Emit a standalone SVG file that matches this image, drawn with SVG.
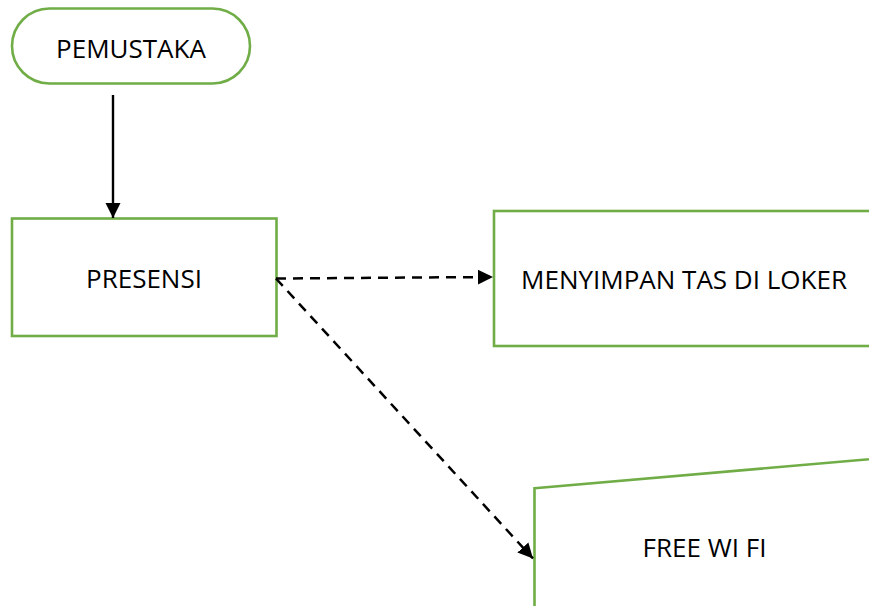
<svg xmlns="http://www.w3.org/2000/svg" width="869" height="606" viewBox="0 0 869 606">
  <style>
    .node { fill: #ffffff; stroke: #70ad47; stroke-width: 2.6; }
    .label { font-family: "Open Sans", "Liberation Sans", sans-serif; font-size: 26px; fill: #000000; text-anchor: middle; }
    .solid { stroke: #000000; stroke-width: 2.4; fill: none; }
    .dashed { stroke: #000000; stroke-width: 2.5; fill: none; stroke-dasharray: 10 7; }
  </style>
  <defs>
    <marker id="arrow" markerUnits="userSpaceOnUse" markerWidth="16" markerHeight="16" viewBox="0 0 16 16" refX="15" refY="8" orient="auto">
      <path d="M0,0.5 L15,8 L0,15.5 Z" fill="#000000"/>
    </marker>
  </defs>
  <rect width="869" height="606" fill="#ffffff"/>

  <g id="pemustaka">
    <rect class="node" x="12" y="8.5" width="238" height="75" rx="37.5" ry="37.5"/>
    <text class="label" x="131" y="58">PEMUSTAKA</text>
  </g>

  <g id="presensi">
    <rect class="node" x="12" y="218.5" width="264.5" height="117.5"/>
    <text class="label" x="144" y="287.5">PRESENSI</text>
  </g>

  <g id="loker">
    <rect class="node" x="494" y="211" width="400" height="135"/>
    <text class="label" x="684" y="288.5">MENYIMPAN TAS DI LOKER</text>
  </g>

  <g id="wifi">
    <polygon class="node" points="534.5,488.3 900,456.5 900,640 534.5,640"/>
    <text class="label" x="704.5" y="557">FREE WI FI</text>
  </g>

  <g id="connectors">
    <line class="solid" x1="113" y1="95" x2="113" y2="218" marker-end="url(#arrow)"/>
    <line class="dashed" x1="276" y1="278.5" x2="493" y2="277" marker-end="url(#arrow)"/>
    <line class="dashed" x1="276" y1="278.5" x2="533" y2="558.5" marker-end="url(#arrow)"/>
  </g>
</svg>
